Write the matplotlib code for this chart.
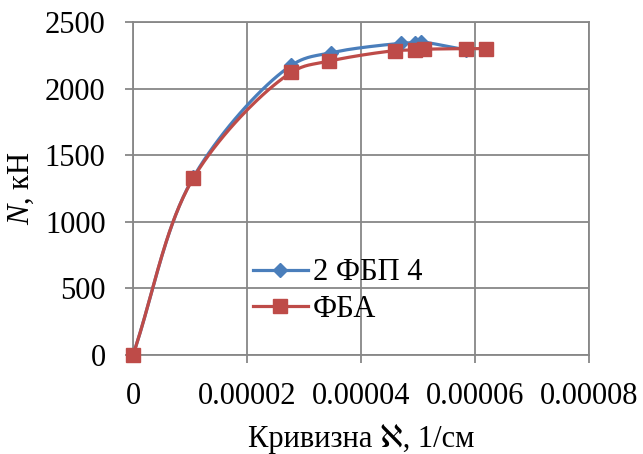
import numpy as np
import matplotlib
matplotlib.use("Agg")
import matplotlib.pyplot as plt

plt.rcParams['font.family'] = ['Liberation Serif', 'DejaVu Serif', 'DejaVu Sans']
plt.rcParams['mathtext.fontset'] = 'custom'
plt.rcParams['mathtext.it'] = 'Liberation Serif:italic'
plt.rcParams['mathtext.rm'] = 'Liberation Serif'

blue_x = [0, 1.06e-5, 2.78e-5, 3.48e-5, 4.7e-5, 4.95e-5, 5.05e-5, 5.85e-5]
blue_y = [0, 1335, 2175, 2270, 2340, 2345, 2350, 2290]
red_x = [0, 1.06e-5, 2.78e-5, 3.43e-5, 4.6e-5, 4.95e-5, 5.1e-5, 5.85e-5, 6.2e-5]
red_y = [0, 1329, 2122, 2205, 2285, 2290, 2295, 2300, 2300]
labels = ['2 ФБП 4', 'ФБА']
xticks = [0, 0.00002, 0.00004, 0.00006, 0.00008]
xtick_labels = ['0', '0.00002', '0.00004', '0.00006', '0.00008']
yticks = [0, 500, 1000, 1500, 2000, 2500]

def smooth(x, y, n=40, alpha=0.5):
    # centripetal Catmull-Rom in (approximate) screen units
    sxu, syu = 1e-5 / 57.5, 500 / 66.6
    P = np.column_stack([np.asarray(x, float) / sxu, np.asarray(y, float) / syu])
    pts = np.vstack([2 * P[0] - P[1], P, 2 * P[-1] - P[-2]])
    out = []
    for i in range(1, len(pts) - 2):
        p0, p1, p2, p3 = pts[i - 1], pts[i], pts[i + 1], pts[i + 2]
        t0 = 0.0
        t1 = t0 + np.linalg.norm(p1 - p0) ** alpha
        t2 = t1 + np.linalg.norm(p2 - p1) ** alpha
        t3 = t2 + np.linalg.norm(p3 - p2) ** alpha
        t = np.linspace(t1, t2, n)[:, None]
        a1 = (t1 - t) / (t1 - t0) * p0 + (t - t0) / (t1 - t0) * p1
        a2 = (t2 - t) / (t2 - t1) * p1 + (t - t1) / (t2 - t1) * p2
        a3 = (t3 - t) / (t3 - t2) * p2 + (t - t2) / (t3 - t2) * p3
        b1 = (t2 - t) / (t2 - t0) * a1 + (t - t0) / (t2 - t0) * a2
        b2 = (t3 - t) / (t3 - t1) * a2 + (t - t1) / (t3 - t1) * a3
        c = (t2 - t) / (t2 - t1) * b1 + (t - t1) / (t2 - t1) * b2
        out.append(c)
    c = np.vstack(out)
    return c[:, 0] * sxu, c[:, 1] * syu

fig = plt.figure(figsize=(6.43, 4.54), dpi=100)
ax = fig.add_axes([133 / 643, 1 - 355 / 454, (589 - 133) / 643, (355 - 22) / 454])

blue = '#4A7EBB'
red = '#BE4B48'
lw = 2.3
sx, sy = smooth(blue_x, blue_y)
ax.plot(sx, sy, color=blue, lw=lw, zorder=3, clip_on=False)
ax.plot(blue_x, blue_y, ls='none', marker='D', ms=7.5, color=blue, zorder=4, clip_on=False)
sx, sy = smooth(red_x, red_y)
ax.plot(sx, sy, color=red, lw=lw, zorder=3, clip_on=False)
ax.plot(red_x, red_y, ls='none', marker='s', ms=10, color=red, zorder=4, clip_on=False)

h1, = ax.plot([], [], color=blue, lw=lw, marker='D', ms=7.5)
h2, = ax.plot([], [], color=red, lw=lw, marker='s', ms=10)
ax.legend([h1, h2], labels, loc='center left', bbox_to_anchor=(0.263, 0.192),
          frameon=False, fontsize=22, handlelength=1.8, handletextpad=0.15,
          labelspacing=0.25, borderpad=0, borderaxespad=0)

ax.set_xlim(0, 0.00008)
ax.set_ylim(0, 2500)
ax.set_xticks(xticks)
ax.set_xticklabels(xtick_labels)
ax.set_yticks(yticks)
ax.grid(True, color='#878787', lw=1.3)
ax.set_axisbelow(True)
for s in ax.spines.values():
    s.set_color('#878787'); s.set_linewidth(1.3)
ax.tick_params(axis='both', labelsize=22, length=5.8, width=1.3, color='#878787',
               direction='out')
ax.tick_params(axis='y', pad=14)
ax.tick_params(axis='x', pad=14)
ax.set_ylabel('$N$, кН', fontsize=22, labelpad=6)
fig.text(361 / 643, 1 - 447 / 454, 'Кривизна ℵ, 1/см', fontsize=22,
         ha='center', va='baseline')
fig.savefig('out.png', dpi=100)
